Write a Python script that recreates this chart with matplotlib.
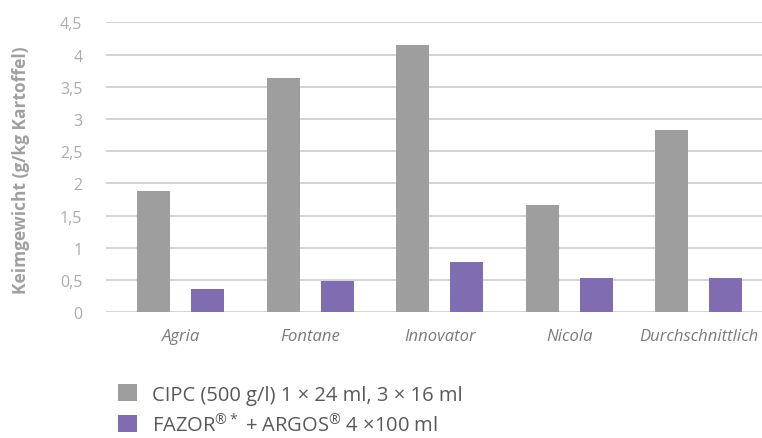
import matplotlib
matplotlib.use("Agg")
import matplotlib.pyplot as plt
from matplotlib.patches import Patch
import numpy as np

plt.rcParams['font.family'] = ['Open Sans', 'DejaVu Sans']
plt.rcParams['mathtext.fontset'] = 'custom'
plt.rcParams['mathtext.rm'] = 'Open Sans'
plt.rcParams['mathtext.it'] = 'Open Sans:italic'
plt.rcParams['mathtext.bf'] = 'Open Sans:bold'

categories = ["Agria", "Fontane", "Innovator", "Nicola", "Durchschnittlich"]
cipc = [1.88, 3.64, 4.15, 1.67, 2.83]
fazor = [0.36, 0.49, 0.78, 0.53, 0.53]
series_labels = ["CIPC (500 g/l) 1 × 24 ml, 3 × 16 ml",
                 r"FAZOR$^{\mathrm{®*}}$ + ARGOS$^{\mathrm{®}}$ 4 ×100 ml"]
yticks = [0, 0.5, 1, 1.5, 2, 2.5, 3, 3.5, 4, 4.5]
ytick_labels = ["0", "0,5", "1", "1,5", "2", "2,5", "3", "3,5", "4", "4,5"]
ylabel = "Keimgewicht (g/kg Kartoffel)"

gray = "#9d9e9d"
purple = "#806cb0"

fig = plt.figure(figsize=(7.62, 4.39), dpi=100)
ax = fig.add_axes([106 / 762, (439 - 313.3) / 439, 1 - 106 / 762, (313.3 - 23.3) / 439])

x = np.arange(len(categories))
w = 0.255
off = 0.208
ax.bar(x - off, cipc, w, color=gray, zorder=3)
ax.bar(x + off, fazor, w, color=purple, zorder=3)

ax.set_xlim(-0.577, 4.49)
ax.set_ylim(0, 4.5)
ax.set_yticks(yticks)
ax.set_yticklabels(ytick_labels)
ax.set_xticks(x)
ax.set_xticklabels(categories, style="italic")

ax.yaxis.grid(True, color="#d0d0d0", linewidth=1.3, zorder=0)
for s in ax.spines.values():
    s.set_visible(False)
ax.tick_params(axis="both", length=0)
ax.tick_params(axis="y", labelsize=11.5, labelcolor="#ababab", pad=17)
ax.tick_params(axis="x", labelsize=12, labelcolor="#7a7a7a", pad=11)

fig.text(21 / 762, (439 - 170) / 439, ylabel, rotation=90, ha="center", va="center",
         fontsize=12.5, fontweight="bold", color="#a0a0a0")

handles = [Patch(facecolor=gray, edgecolor="none"), Patch(facecolor=purple, edgecolor="none")]
leg = fig.legend(handles, series_labels, loc="upper left",
                 bbox_to_anchor=(118 / 762, 1 - 385 / 439), frameon=False,
                 fontsize=14.5, handlelength=0.95, handleheight=0.95,
                 handletextpad=0.75, labelspacing=0.4, borderpad=0, borderaxespad=0)
for t in leg.get_texts():
    t.set_color("#595959")

fig.savefig("out.png", dpi=100)
